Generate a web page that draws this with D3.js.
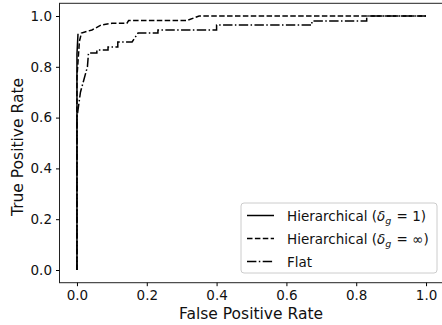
<!DOCTYPE html>
<html>
<head>
<meta charset="utf-8">
<script src="https://cdn.jsdelivr.net/npm/d3@7"></script>
<style>
  body { margin: 0; background: #fff; }
  svg { display: block; font-family: "DejaVu Sans", sans-serif; }
</style>
</head>
<body>
<div id="chart"></div>
<script>
// ROC curves
const hierOneFpr = [0, 0, 0.003];
const hierOneTpr = [0, 0.85, 0.93];

const hierInfFpr = [0, 0, 0.007, 0.013, 0.043, 0.07, 0.1, 0.143, 0.148, 0.315, 0.35, 1.0];
const hierInfTpr = [0, 0.76, 0.9, 0.933, 0.945, 0.965, 0.971, 0.971, 0.982, 0.982, 1.0, 1.0];

const flatFpr = [0, 0, 0.01, 0.02, 0.03, 0.033, 0.057, 0.057, 0.089, 0.089, 0.117, 0.117, 0.158, 0.175, 0.232, 0.232, 0.40, 0.40, 0.673, 0.673, 0.83, 0.83, 1.0];
const flatTpr = [0, 0.6, 0.7, 0.75, 0.80, 0.854, 0.854, 0.866, 0.866, 0.878, 0.878, 0.898, 0.898, 0.933, 0.933, 0.945, 0.945, 0.965, 0.965, 0.98, 0.98, 1.0, 1.0];

const tickValues = [0, 0.2, 0.4, 0.6, 0.8, 1.0];

const series = [
  { name: "one", fpr: hierOneFpr, tpr: hierOneTpr, dash: null },
  { name: "inf", fpr: hierInfFpr, tpr: hierInfTpr, dash: "5.5,2.4" },
  { name: "flat", fpr: flatFpr, tpr: flatTpr, dash: "9.4,2.4,1.5,2.4" }
];

const width = 442;
const height = 325;

// axes box (right edge is cut by the picture)
const x = d3.scaleLinear().domain([-0.05, 1.05]).range([59.5, 443.5]);
const y = d3.scaleLinear().domain([-0.05, 1.05]).range([282.7, 3.3]);

const svg = d3.create("svg")
    .attr("width", width)
    .attr("height", height);

const line = d3.line()
  .x(d => x(d[0]))
  .y(d => y(d[1]));

// curves
svg.append("g")
  .selectAll("path")
  .data(series)
  .join("path")
    .attr("fill", "none")
    .attr("stroke", "#000")
    .attr("stroke-width", 1.5)
    .attr("stroke-dasharray", d => d.dash)
    .attr("d", d => line(d.fpr.map((f, i) => [f, d.tpr[i]])));

// frame
svg.append("rect")
  .attr("x", 59.5).attr("y", 3.3)
  .attr("width", 443.5 - 59.5).attr("height", 282.7 - 3.3)
  .attr("fill", "none")
  .attr("stroke", "#222")
  .attr("stroke-width", 1);

// x-axis
const gx = svg.append("g")
  .attr("transform", `translate(0,282.7)`)
  .call(d3.axisBottom(x).tickValues(tickValues).tickFormat(d3.format(".1f")).tickSize(3.5).tickPadding(4));
gx.select(".domain").remove();
gx.selectAll("text").attr("font-size", 13.5).attr("fill", "#111").attr("font-family", "DejaVu Sans");

// y-axis
const gy = svg.append("g")
  .attr("transform", `translate(59.5,0)`)
  .call(d3.axisLeft(y).tickValues(tickValues).tickFormat(d3.format(".1f")).tickSize(3.5).tickPadding(4));
gy.select(".domain").remove();
gy.selectAll("text").attr("font-size", 13.5).attr("fill", "#111").attr("font-family", "DejaVu Sans");

// axis labels
svg.append("text")
  .attr("x", 251).attr("y", 319)
  .attr("text-anchor", "middle")
  .attr("font-size", 15.5)
  .attr("fill", "#111")
  .text("False Positive Rate");

svg.append("text")
  .attr("transform", "translate(23,147) rotate(-90)")
  .attr("text-anchor", "middle")
  .attr("font-size", 15.5)
  .attr("fill", "#111")
  .text("True Positive Rate");

// legend
const legend = svg.append("g");
legend.append("rect")
  .attr("x", 241).attr("y", 203)
  .attr("width", 196).attr("height", 70)
  .attr("rx", 3)
  .attr("fill", "#fff")
  .attr("fill-opacity", 0.8)
  .attr("stroke", "#ccc")
  .attr("stroke-width", 1);

const legendRows = [
  { dash: null, parts: [["Hierarchical (", null], ["δ", "i"], ["g", "sub"], [" = 1)", null]] },
  { dash: "5.5,2.4", parts: [["Hierarchical (", null], ["δ", "i"], ["g", "sub"], [" = ∞)", null]] },
  { dash: "9.4,2.4,1.5,2.4", parts: [["Flat", null]] }
];

legendRows.forEach((row, i) => {
  const cy = 215.5 + i * 23;
  legend.append("line")
    .attr("x1", 247).attr("x2", 274)
    .attr("y1", cy).attr("y2", cy)
    .attr("stroke", "#000")
    .attr("stroke-width", 1.5)
    .attr("stroke-dasharray", row.dash);
  const t = legend.append("text")
    .attr("x", 287).attr("y", cy + 5)
    .attr("font-size", 13.5)
    .attr("fill", "#111");
  row.parts.forEach(([s, kind]) => {
    const ts = t.append("tspan").text(s);
    if (kind === "i") ts.attr("font-style", "italic");
    if (kind === "sub") ts.attr("font-style", "italic").attr("font-size", 9.5).attr("dy", 3);
    if (kind === null && s.startsWith(" =")) ts.attr("dy", -3).attr("dx", 1);
  });
});

document.getElementById("chart").append(svg.node());
</script>
</body>
</html>
